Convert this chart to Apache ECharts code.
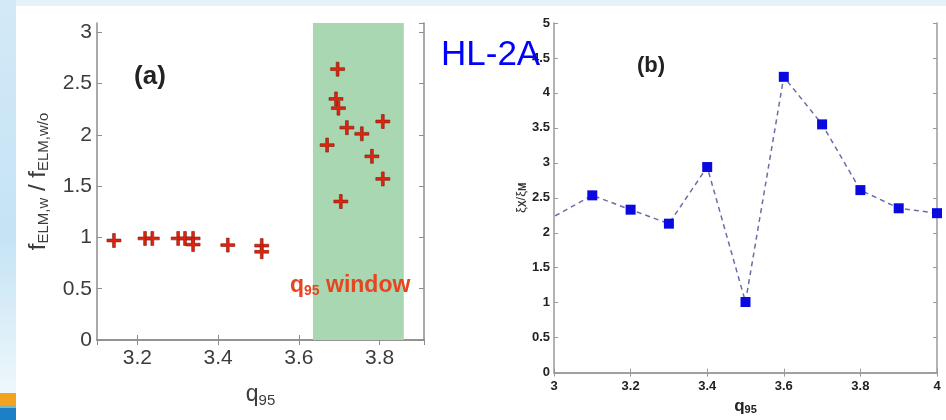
<!DOCTYPE html>
<html><head><meta charset="utf-8">
<script src="https://cdn.jsdelivr.net/npm/echarts@6/dist/echarts.min.js"></script>
<style>html,body{margin:0;padding:0;background:#fff}#c{width:946px;height:420px}</style>
</head><body><div id="c"></div>
<script>
// Panel (a): f_ELM,w / f_ELM,w/o vs q95
const aX = [3.142,3.219,3.237,3.301,3.318,3.338,3.338,3.424,3.508,3.508,3.696,3.692,3.698,3.808,3.719,3.756,3.670,3.781,3.808,3.704];
const aY = [0.97,0.99,0.99,0.99,0.99,0.99,0.93,0.925,0.92,0.86,2.64,2.35,2.26,2.13,2.07,2.01,1.90,1.79,1.57,1.35];
const windowRange = [3.635, 3.86];
// Panel (b): xi_X / xi_M vs q95
const bX = [2.9,3.1,3.2,3.3,3.4,3.5,3.6,3.7,3.8,3.9,4.0];
const bY = [1.93,2.535,2.33,2.13,2.94,1.01,4.23,3.55,2.61,2.35,2.28];

const FF = "'Liberation Sans', Arial, sans-serif";
const gA = '#8c8c8c', gB = '#9a9a9a';

function axA(pos, isX, extra) {
  return Object.assign({
    gridIndex: 0, type: 'value', position: pos,
    axisLine: {show: true, lineStyle: {color: gA, width: 1.5}},
    axisTick: {show: true, inside: true, length: 5, lineStyle: {color: gA}},
    splitLine: {show: false},
    axisLabel: {show: false}
  }, extra);
}
function axB(pos, extra) {
  return Object.assign({
    gridIndex: 1, type: 'value', position: pos,
    axisLine: {show: true, lineStyle: {color: gB, width: 1.5}},
    axisTick: {show: true, inside: true, length: 4, lineStyle: {color: gB}},
    splitLine: {show: false},
    axisLabel: {show: false}
  }, extra);
}

const plusPath = 'path://M4,0H6V4H10V6H6V10H4V6H0V4H4Z';

const chart = echarts.init(document.getElementById('c'), null, {renderer: 'canvas'});
chart.setOption({
  animation: false,
  backgroundColor: '#ffffff',
  grid: [
    {left: 97, top: 23, width: 327, height: 317},
    {left: 554, top: 23, width: 383, height: 355}
  ],
  xAxis: [
    axA('bottom', true, {min: 3.1, max: 3.91, splitNumber: 4,
      axisLabel: {show: true, showMinLabel: false, showMaxLabel: false, color: '#3c3c3c', fontSize: 21, fontFamily: FF, margin: 8},
      name: '{q|q}{s|95}', nameLocation: 'middle', nameGap: 42,
      nameTextStyle: {rich: {q: {fontSize: 23, fontFamily: FF, color: '#3c3c3c', lineHeight: 26}, s: {fontSize: 15, fontFamily: FF, color: '#3c3c3c', verticalAlign: 'bottom', lineHeight: 14}}}}),
    axA('top', true, {min: 3.1, max: 3.91, splitNumber: 4}),
    axB('bottom', {min: 3, max: 4, interval: 0.2,
      axisLabel: {show: true, color: '#222', fontSize: 13, fontWeight: 'bold', fontFamily: FF, margin: 7},
      name: '{q|q}{s|95}', nameLocation: 'middle', nameGap: 17,
      nameTextStyle: {rich: {q: {fontSize: 17, fontWeight: 'bold', fontFamily: FF, color: '#222', lineHeight: 18}, s: {fontSize: 11, fontWeight: 'bold', fontFamily: FF, color: '#222', verticalAlign: 'bottom', lineHeight: 10}}}}),
    axB('top', {min: 3, max: 4, interval: 0.2})
  ],
  yAxis: [
    axA('left', false, {min: 0, max: 3.09, interval: 0.5,
      axisLabel: {show: true, showMaxLabel: false, color: '#3c3c3c', fontSize: 21, fontFamily: FF, margin: 5},
      name: '{f|f}{s|ELM,w}{f| / f}{s|ELM,w/o}', nameLocation: 'middle', nameGap: 46, nameRotate: 90,
      nameTextStyle: {rich: {f: {fontSize: 24, fontFamily: FF, color: '#3c3c3c', lineHeight: 26}, s: {fontSize: 15, fontFamily: FF, color: '#3c3c3c', verticalAlign: 'bottom', lineHeight: 13}}}}),
    axA('right', false, {min: 0, max: 3.09, interval: 0.5}),
    axB('left', {min: 0, max: 5, interval: 0.5,
      axisLabel: {show: true, color: '#222', fontSize: 13, fontWeight: 'bold', fontFamily: FF, margin: 4},
      name: '{x|ξ}{s|X}{x|/ξ}{s|M}', nameLocation: 'middle', nameGap: 26, nameRotate: 90,
      nameTextStyle: {rich: {x: {fontSize: 13, fontFamily: FF, color: '#333', lineHeight: 14}, s: {fontSize: 10, fontWeight: 'bold', fontFamily: FF, color: '#333', verticalAlign: 'bottom', lineHeight: 8}}}}),
    axB('right', {min: 0, max: 5, interval: 0.5})
  ],
  series: [
    {
      type: 'scatter', xAxisIndex: 0, yAxisIndex: 0,
      data: aX.map((x, i) => [x, aY[i]]),
      symbol: plusPath, symbolSize: 14,
      itemStyle: {color: '#e2230f', borderColor: '#7a1d0e', borderWidth: 0.6, opacity: 1},
      markArea: {silent: true, itemStyle: {color: '#a9d7b1', opacity: 1},
        data: [[{xAxis: windowRange[0]}, {xAxis: windowRange[1]}]]},
      z: 3
    },
    {
      type: 'line', xAxisIndex: 2, yAxisIndex: 2,
      data: bX.map((x, i) => [x, bY[i]]),
      clip: true,
      symbol: 'rect', symbolSize: 10,
      lineStyle: {color: '#6c6ca8', width: 1.5, type: [5, 4]},
      itemStyle: {color: '#0a0ae0'},
      z: 3
    }
  ],
  graphic: [
    {type: 'rect', left: 0, top: 0, shape: {width: 946, height: 6}, style: {fill: '#e6f2fa'}, z: -1},
    {type: 'rect', left: 0, top: 0, shape: {width: 16, height: 393},
      style: {fill: new echarts.graphic.LinearGradient(0, 0, 0, 1, [{offset: 0, color: '#d3e9f7'}, {offset: 0.6, color: '#c5e3f5'}, {offset: 1, color: '#eef7fb'}])}, z: -1},
    {type: 'rect', left: 0, top: 393, shape: {width: 16, height: 12}, style: {fill: '#f3a322'}, z: -1},
    {type: 'rect', left: 0, top: 405, shape: {width: 16, height: 3}, style: {fill: '#7fb8b0'}, z: -1},
    {type: 'rect', left: 0, top: 408, shape: {width: 16, height: 12}, style: {fill: '#1b80c6'}, z: -1},
    {type: 'text', x: 150, y: 77, style: {text: '(a)', fontSize: 26, fontWeight: 'bold', fontFamily: FF, fill: '#222', align: 'center', verticalAlign: 'middle'}, z: 10},
    {type: 'text', x: 651, y: 66, style: {text: '(b)', fontSize: 22, fontWeight: 'bold', fontFamily: FF, fill: '#222', align: 'center', verticalAlign: 'middle'}, z: 10},
    {type: 'text', x: 441, y: 55, style: {text: 'HL-2A', fontSize: 35, fontFamily: FF, fill: '#0000ff', align: 'left', verticalAlign: 'middle'}, z: 10},
    {type: 'text', x: 290, y: 286, style: {text: '{q|q}{s|95}{w| window}', align: 'left', verticalAlign: 'middle',
      rich: {q: {fontSize: 23, fontWeight: 'bold', fontFamily: FF, fill: '#e5451f', lineHeight: 24},
             s: {fontSize: 14, fontWeight: 'bold', fontFamily: FF, fill: '#e5451f', verticalAlign: 'bottom', lineHeight: 12},
             w: {fontSize: 23, fontWeight: 'bold', fontFamily: FF, fill: '#e5451f', lineHeight: 24}}}, z: 10}
  ]
});
</script></body></html>
